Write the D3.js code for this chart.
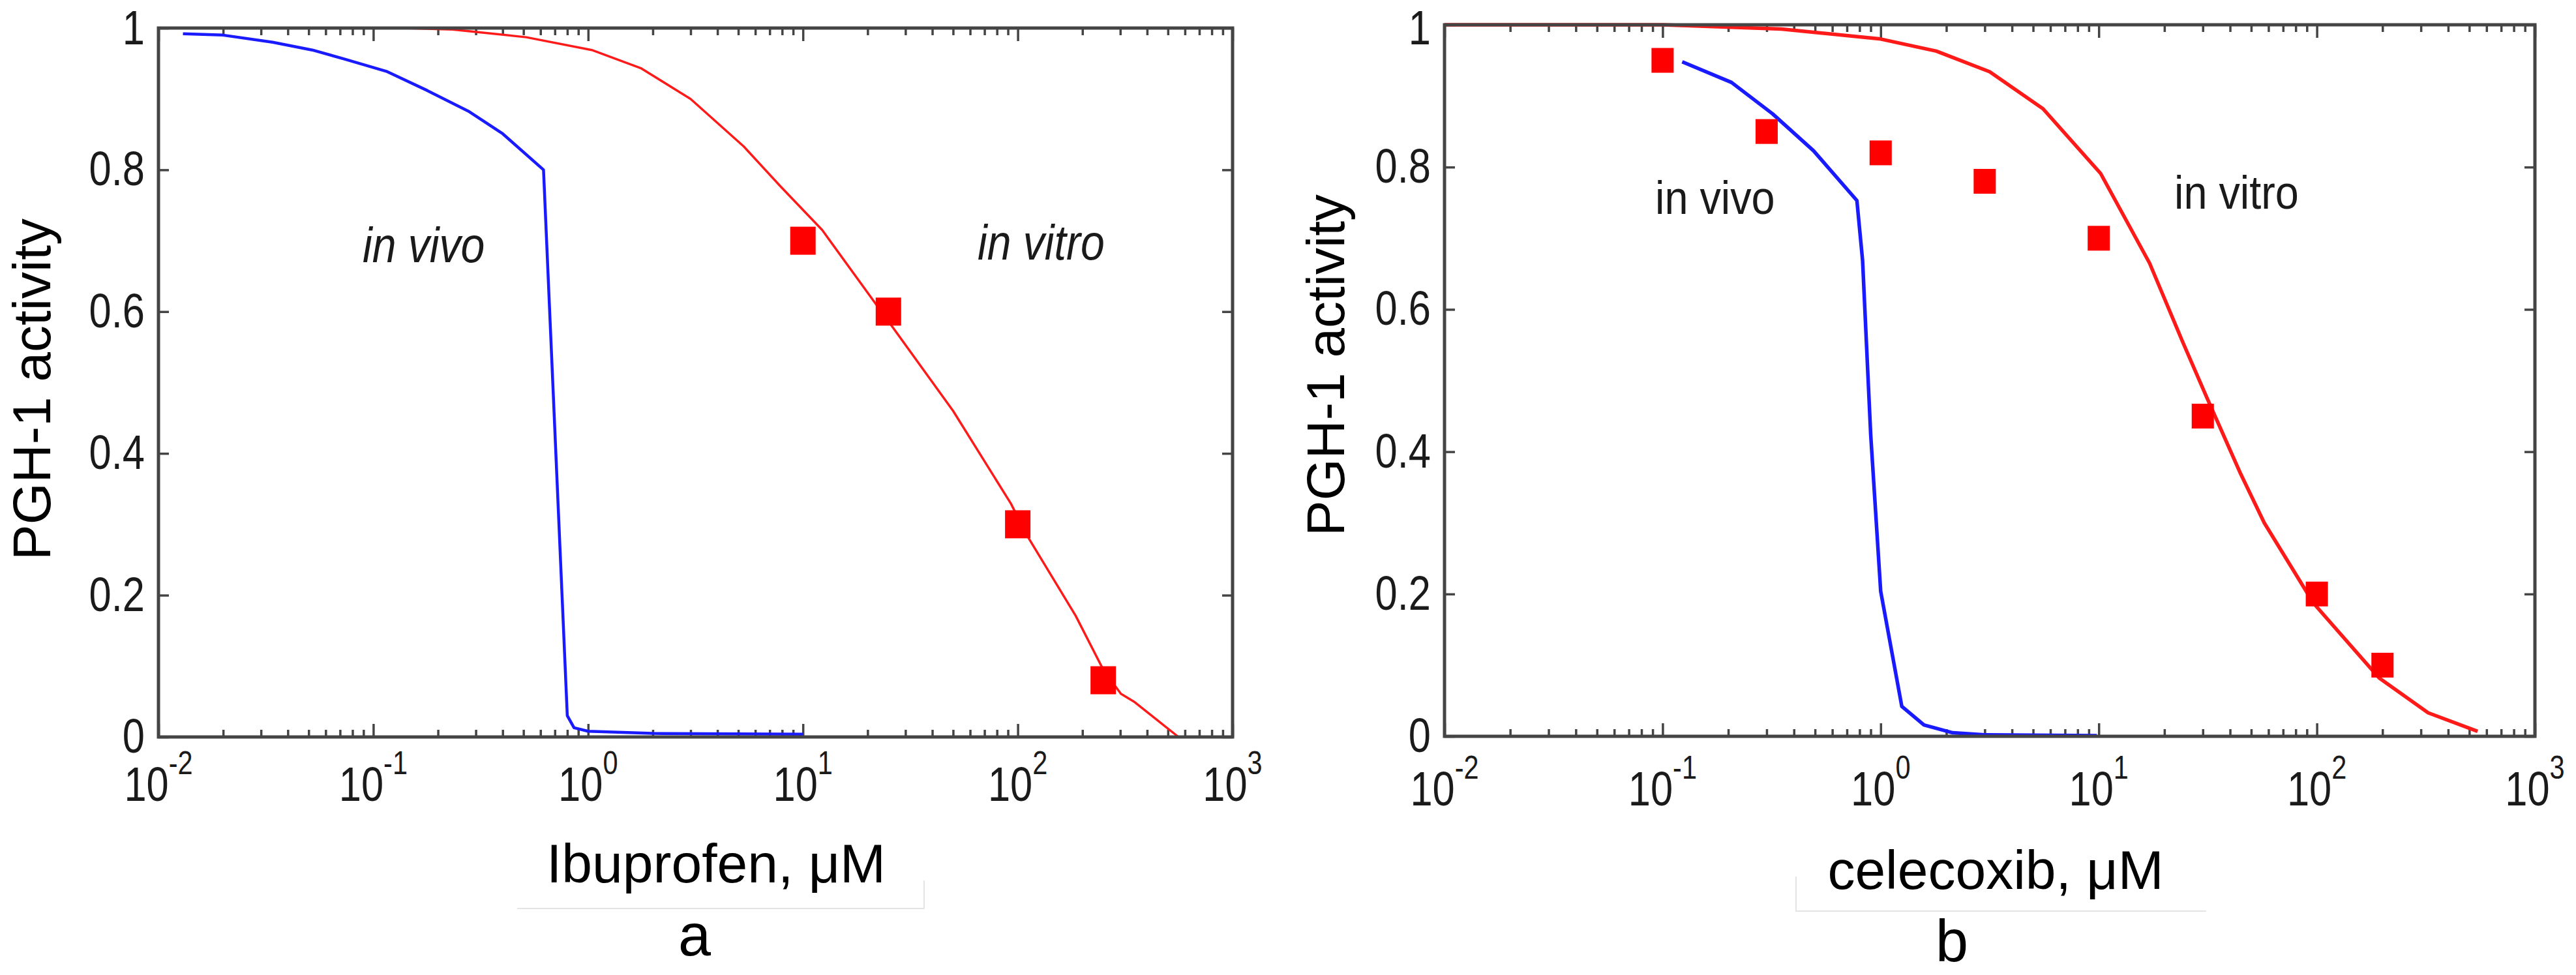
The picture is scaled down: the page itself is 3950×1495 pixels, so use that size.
<!DOCTYPE html>
<html>
<head>
<meta charset="utf-8">
<title>PGH-1 activity</title>
<script src="https://d3js.org/d3.v7.min.js"></script>
<style>
  body { margin: 0; background: #fff; }
  svg { display: block; }
  text { font-family: "Liberation Sans", Arial, Helvetica, sans-serif; }
</style>
</head>
<body>
<svg id="chart" width="3950" height="1495"></svg>
<script>
// ---- data ----
var decadeTicks = [0.01, 0.1, 1, 10, 100, 1000];
var decadeExps = ["-2", "-1", "0", "1", "2", "3"];
var yTicks = [0, 0.2, 0.4, 0.6, 0.8, 1];
var yTickLabels = ["0", "0.2", "0.4", "0.6", "0.8", "1"];

// panel a: ibuprofen
var ibuVivoConc = [0.013, 0.02, 0.034, 0.052, 0.074, 0.115, 0.178, 0.28, 0.40, 0.62, 0.80, 0.86, 1.0, 2.0, 10];
var ibuVivoAct  = [0.992, 0.99, 0.980, 0.969, 0.956, 0.939, 0.912, 0.882, 0.851, 0.80, 0.03, 0.013, 0.008, 0.005, 0.004];
var ibuVitroConc = [0.138, 0.234, 0.516, 1.04, 1.77, 3.0, 5.3, 7.9, 12.3, 24.5, 50, 93, 110, 186, 250, 302, 347, 560];
var ibuVitroAct  = [1.0, 0.998, 0.987, 0.969, 0.943, 0.90, 0.833, 0.776, 0.715, 0.59, 0.46, 0.329, 0.285, 0.171, 0.095, 0.061, 0.050, 0.0];
var ibuExpConc = [10, 25, 100, 250];
var ibuExpAct  = [0.70, 0.60, 0.30, 0.08];

// panel b: celecoxib
var cxbVivoConc = [0.123, 0.207, 0.319, 0.492, 0.778, 0.826, 0.90, 1.0, 1.25, 1.58, 2.14, 3.0, 9.8];
var cxbVivoAct  = [0.948, 0.919, 0.875, 0.823, 0.753, 0.669, 0.424, 0.204, 0.042, 0.016, 0.005, 0.002, 0.001];
var cxbVitroConc = [0.01, 0.1, 0.35, 1.0, 1.8, 3.16, 5.55, 10.2, 17.1, 24.2, 31.3, 44.4, 57.4, 96.6, 193, 324, 546];
var cxbVitroAct  = [1.0, 1.0, 0.994, 0.98, 0.963, 0.934, 0.882, 0.791, 0.665, 0.555, 0.476, 0.371, 0.30, 0.187, 0.082, 0.033, 0.007];
var cxbExpConc = [0.1, 0.3, 1, 3, 10, 30, 100, 200];
var cxbExpAct  = [0.95, 0.85, 0.82, 0.78, 0.70, 0.45, 0.20, 0.10];

var svg = d3.select("#chart");
var axisColor = "#444";
var textColor = "#1a1a1a";

// text that is squeezed sideways like the original Matlab export
function squeezedText(parent, x, y, str, size, sx, anchor, italic) {
  var g = parent.append("g").attr("transform", "translate(" + x + "," + y + ") scale(" + sx + ",1)");
  return g.append("text")
    .attr("x", 0).attr("y", 0)
    .attr("font-size", size)
    .attr("text-anchor", anchor)
    .attr("font-style", italic ? "italic" : "normal")
    .attr("fill", textColor)
    .text(str);
}

function drawPanel(p) {
  var xScale = d3.scaleLog().domain([0.01, 1000]).range([p.left, p.right]);
  var yScale = d3.scaleLinear().domain([0, 1]).range([p.bottom, p.top]);
  var g = svg.append("g");

  var minor = xScale.ticks().filter(function(v) { return decadeTicks.indexOf(v) < 0; });

  // ticks pointing inside, on all four sides
  function tickGroup(axis, tx, ty) {
    var a = g.append("g").attr("transform", "translate(" + tx + "," + ty + ")").call(axis);
    a.select(".domain").remove();
    a.selectAll("line").attr("stroke", axisColor).attr("stroke-width", 3.5);
    a.selectAll("text").remove();
  }
  tickGroup(d3.axisBottom(xScale).tickValues(decadeTicks).tickSize(-20), 0, p.bottom);
  tickGroup(d3.axisBottom(xScale).tickValues(minor).tickSize(-11), 0, p.bottom);
  tickGroup(d3.axisTop(xScale).tickValues(decadeTicks).tickSize(-20), 0, p.top);
  tickGroup(d3.axisTop(xScale).tickValues(minor).tickSize(-11), 0, p.top);
  tickGroup(d3.axisLeft(yScale).tickValues(yTicks).tickSize(-16), p.left, 0);
  tickGroup(d3.axisRight(yScale).tickValues(yTicks).tickSize(-16), p.right, 0);

  // curves
  var line = d3.line()
    .x(function(d) { return xScale(d[0]); })
    .y(function(d) { return yScale(d[1]); });

  g.append("path").datum(d3.zip(p.vivoConc, p.vivoAct))
    .attr("d", line).attr("fill", "none")
    .attr("stroke", "#1a1aff").attr("stroke-width", p.vivoWidth)
    .attr("stroke-linejoin", "round");
  g.append("path").datum(d3.zip(p.vitroConc, p.vitroAct))
    .attr("d", line).attr("fill", "none")
    .attr("stroke", "#ff1a1a").attr("stroke-width", p.vitroWidth)
    .attr("stroke-linejoin", "round");

  // measured points
  g.selectAll("rect.pt").data(d3.zip(p.expConc, p.expAct)).enter().append("rect")
    .attr("class", "pt")
    .attr("x", function(d) { return xScale(d[0]) - p.sqW / 2; })
    .attr("y", function(d) { return yScale(d[1]) - p.sqH / 2; })
    .attr("width", p.sqW).attr("height", p.sqH)
    .attr("fill", "#ff0000");

  // box
  g.append("rect")
    .attr("x", p.left).attr("y", p.top)
    .attr("width", p.right - p.left).attr("height", p.bottom - p.top)
    .attr("fill", "none").attr("stroke", axisColor).attr("stroke-width", 5);

  // y tick labels (kept inside the top edge of the page)
  yTicks.forEach(function(v, i) {
    var base = Math.max(yScale(v) + 24, 68);
    squeezedText(g, p.left - 21, base, yTickLabels[i], 74, 0.83, "end", false);
  });

  // x tick labels: 10 with exponent
  decadeTicks.forEach(function(v, i) {
    var t = squeezedText(g, xScale(v), p.bottom + p.xlabDy, "", 74, 0.83, "middle", false);
    t.append("tspan").text("10");
    t.append("tspan").attr("font-size", 50).attr("dy", -41).text(decadeExps[i]);
  });

  // annotations
  squeezedText(g, p.vivoX, p.vivoY, "in vivo", p.noteSize, p.noteSx, "start", p.italic);
  squeezedText(g, p.vitroX, p.vitroY, "in vitro", p.noteSize, p.noteSx, "start", p.italic);

  // axis titles
  g.append("text")
    .attr("transform", "translate(" + p.ylabX + "," + p.ylabY + ") rotate(-90)")
    .attr("text-anchor", "middle").attr("font-size", 82).attr("fill", "#000")
    .text("PGH-1 activity");
  g.append("text")
    .attr("x", p.xlabX).attr("y", p.xlabY)
    .attr("text-anchor", "middle").attr("font-size", 84).attr("fill", "#000")
    .text(p.xTitle);
  g.append("text")
    .attr("x", p.letterX).attr("y", p.letterY)
    .attr("text-anchor", "middle").attr("font-size", 90).attr("fill", "#000")
    .text(p.letter);

  // faint edge of the pasted label box
  g.append("path")
    .attr("d", p.boxEdge)
    .attr("fill", "none").attr("stroke", "#e4e4e4").attr("stroke-width", 2);
}

drawPanel({
  left: 243, right: 1890, top: 43, bottom: 1130, xlabDy: 98,
  vivoConc: ibuVivoConc, vivoAct: ibuVivoAct, vitroConc: ibuVitroConc, vitroAct: ibuVitroAct,
  expConc: ibuExpConc, expAct: ibuExpAct,
  vivoWidth: 4.5, vitroWidth: 3.5, sqW: 39, sqH: 43,
  vivoX: 556, vivoY: 402, vitroX: 1499, vitroY: 398, noteSize: 76, noteSx: 0.87, italic: true,
  ylabX: 77, ylabY: 597, xlabX: 1098, xlabY: 1353, xTitle: "Ibuprofen, \u03bcM",
  letterX: 1065, letterY: 1465, letter: "a",
  boxEdge: "M793,1393H1417V1350"
});

drawPanel({
  left: 2215, right: 3887, top: 38, bottom: 1129, xlabDy: 106,
  vivoConc: cxbVivoConc, vivoAct: cxbVivoAct, vitroConc: cxbVitroConc, vitroAct: cxbVitroAct,
  expConc: cxbExpConc, expAct: cxbExpAct,
  vivoWidth: 5.5, vitroWidth: 5.5, sqW: 34, sqH: 38,
  vivoX: 2538, vivoY: 328, vitroX: 3334, vitroY: 320, noteSize: 72, noteSx: 0.9, italic: false,
  ylabX: 2061, ylabY: 560, xlabX: 3060, xlabY: 1363, xTitle: "celecoxib, \u03bcM",
  letterX: 2993, letterY: 1474, letter: "b",
  boxEdge: "M2754,1344V1397H3383"
});
</script>
</body>
</html>
